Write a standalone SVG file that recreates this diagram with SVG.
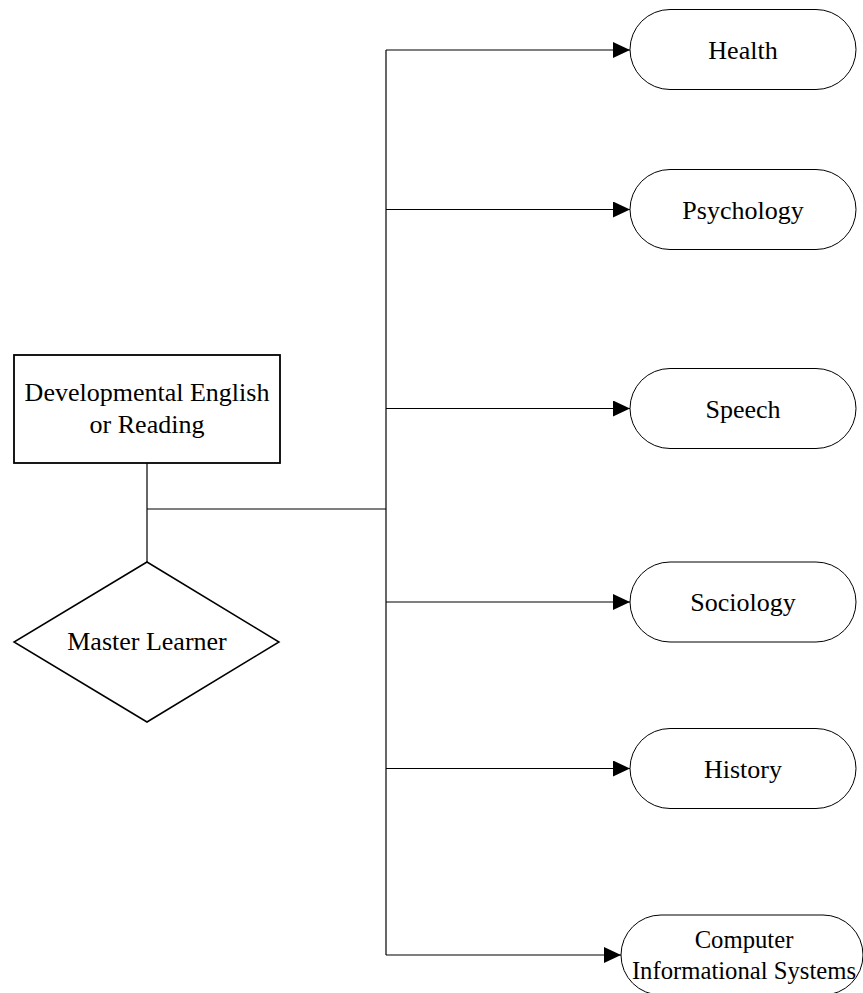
<svg xmlns="http://www.w3.org/2000/svg" width="863" height="993" viewBox="0 0 863 993">
<defs>
<marker id="arr" markerUnits="userSpaceOnUse" markerWidth="17" markerHeight="16" refX="17" refY="8" orient="auto">
<path d="M0,0 L17,8 L0,16 Z" fill="#000"/>
</marker>
<style>
text{font-family:"Liberation Serif","Times New Roman",serif;font-size:26px;fill:#000;text-anchor:middle}
.small{font-size:24.7px}
.pill{fill:#fff;stroke:#000;stroke-width:1}
.conn{fill:none;stroke:#000;stroke-width:1.2}
.arrow{fill:none;stroke:#000;stroke-width:1.2;marker-end:url(#arr)}
</style>
</defs>
<rect width="863" height="993" fill="#fff"/>
<g id="connectors">
<line class="conn" x1="147" y1="463" x2="147" y2="562"/>
<line class="conn" x1="147" y1="509" x2="386" y2="509"/>
<line class="conn" x1="386" y1="50" x2="386" y2="955"/>
<line class="arrow" x1="386" y1="50" x2="630" y2="50"/>
<line class="arrow" x1="386" y1="209.5" x2="630" y2="209.5"/>
<line class="arrow" x1="386" y1="408.5" x2="630" y2="408.5"/>
<line class="arrow" x1="386" y1="602" x2="630" y2="602"/>
<line class="arrow" x1="386" y1="768.5" x2="630" y2="768.5"/>
<line class="arrow" x1="386" y1="955" x2="621" y2="955"/>
</g>
<g id="dev-english">
<rect x="14" y="355" width="266" height="108" fill="#fff" stroke="#000" stroke-width="1.8"/>
<text x="147" y="401">Developmental English</text>
<text x="147" y="433">or Reading</text>
</g>
<g id="master-learner">
<polygon points="147,562 279,642 147,722 14,642" fill="#fff" stroke="#000" stroke-width="1.5"/>
<text x="147" y="650">Master Learner</text>
</g>
<g id="health">
<rect class="pill" x="630" y="9.5" width="226" height="80" rx="40" ry="40"/>
<text x="743" y="59">Health</text>
</g>
<g id="psychology">
<rect class="pill" x="630" y="169.5" width="226" height="80" rx="40" ry="40"/>
<text x="743" y="219">Psychology</text>
</g>
<g id="speech">
<rect class="pill" x="630" y="368.5" width="226" height="80" rx="40" ry="40"/>
<text x="743" y="418">Speech</text>
</g>
<g id="sociology">
<rect class="pill" x="630" y="562" width="226" height="80" rx="40" ry="40"/>
<text x="743" y="611">Sociology</text>
</g>
<g id="history">
<rect class="pill" x="630" y="728.5" width="226" height="80" rx="40" ry="40"/>
<text x="743" y="778">History</text>
</g>
<g id="cis">
<rect class="pill" x="621" y="915" width="242" height="80" rx="40" ry="40"/>
<text class="small" x="744" y="948">Computer</text>
<text class="small" x="744" y="979">Informational Systems</text>
</g>
</svg>
